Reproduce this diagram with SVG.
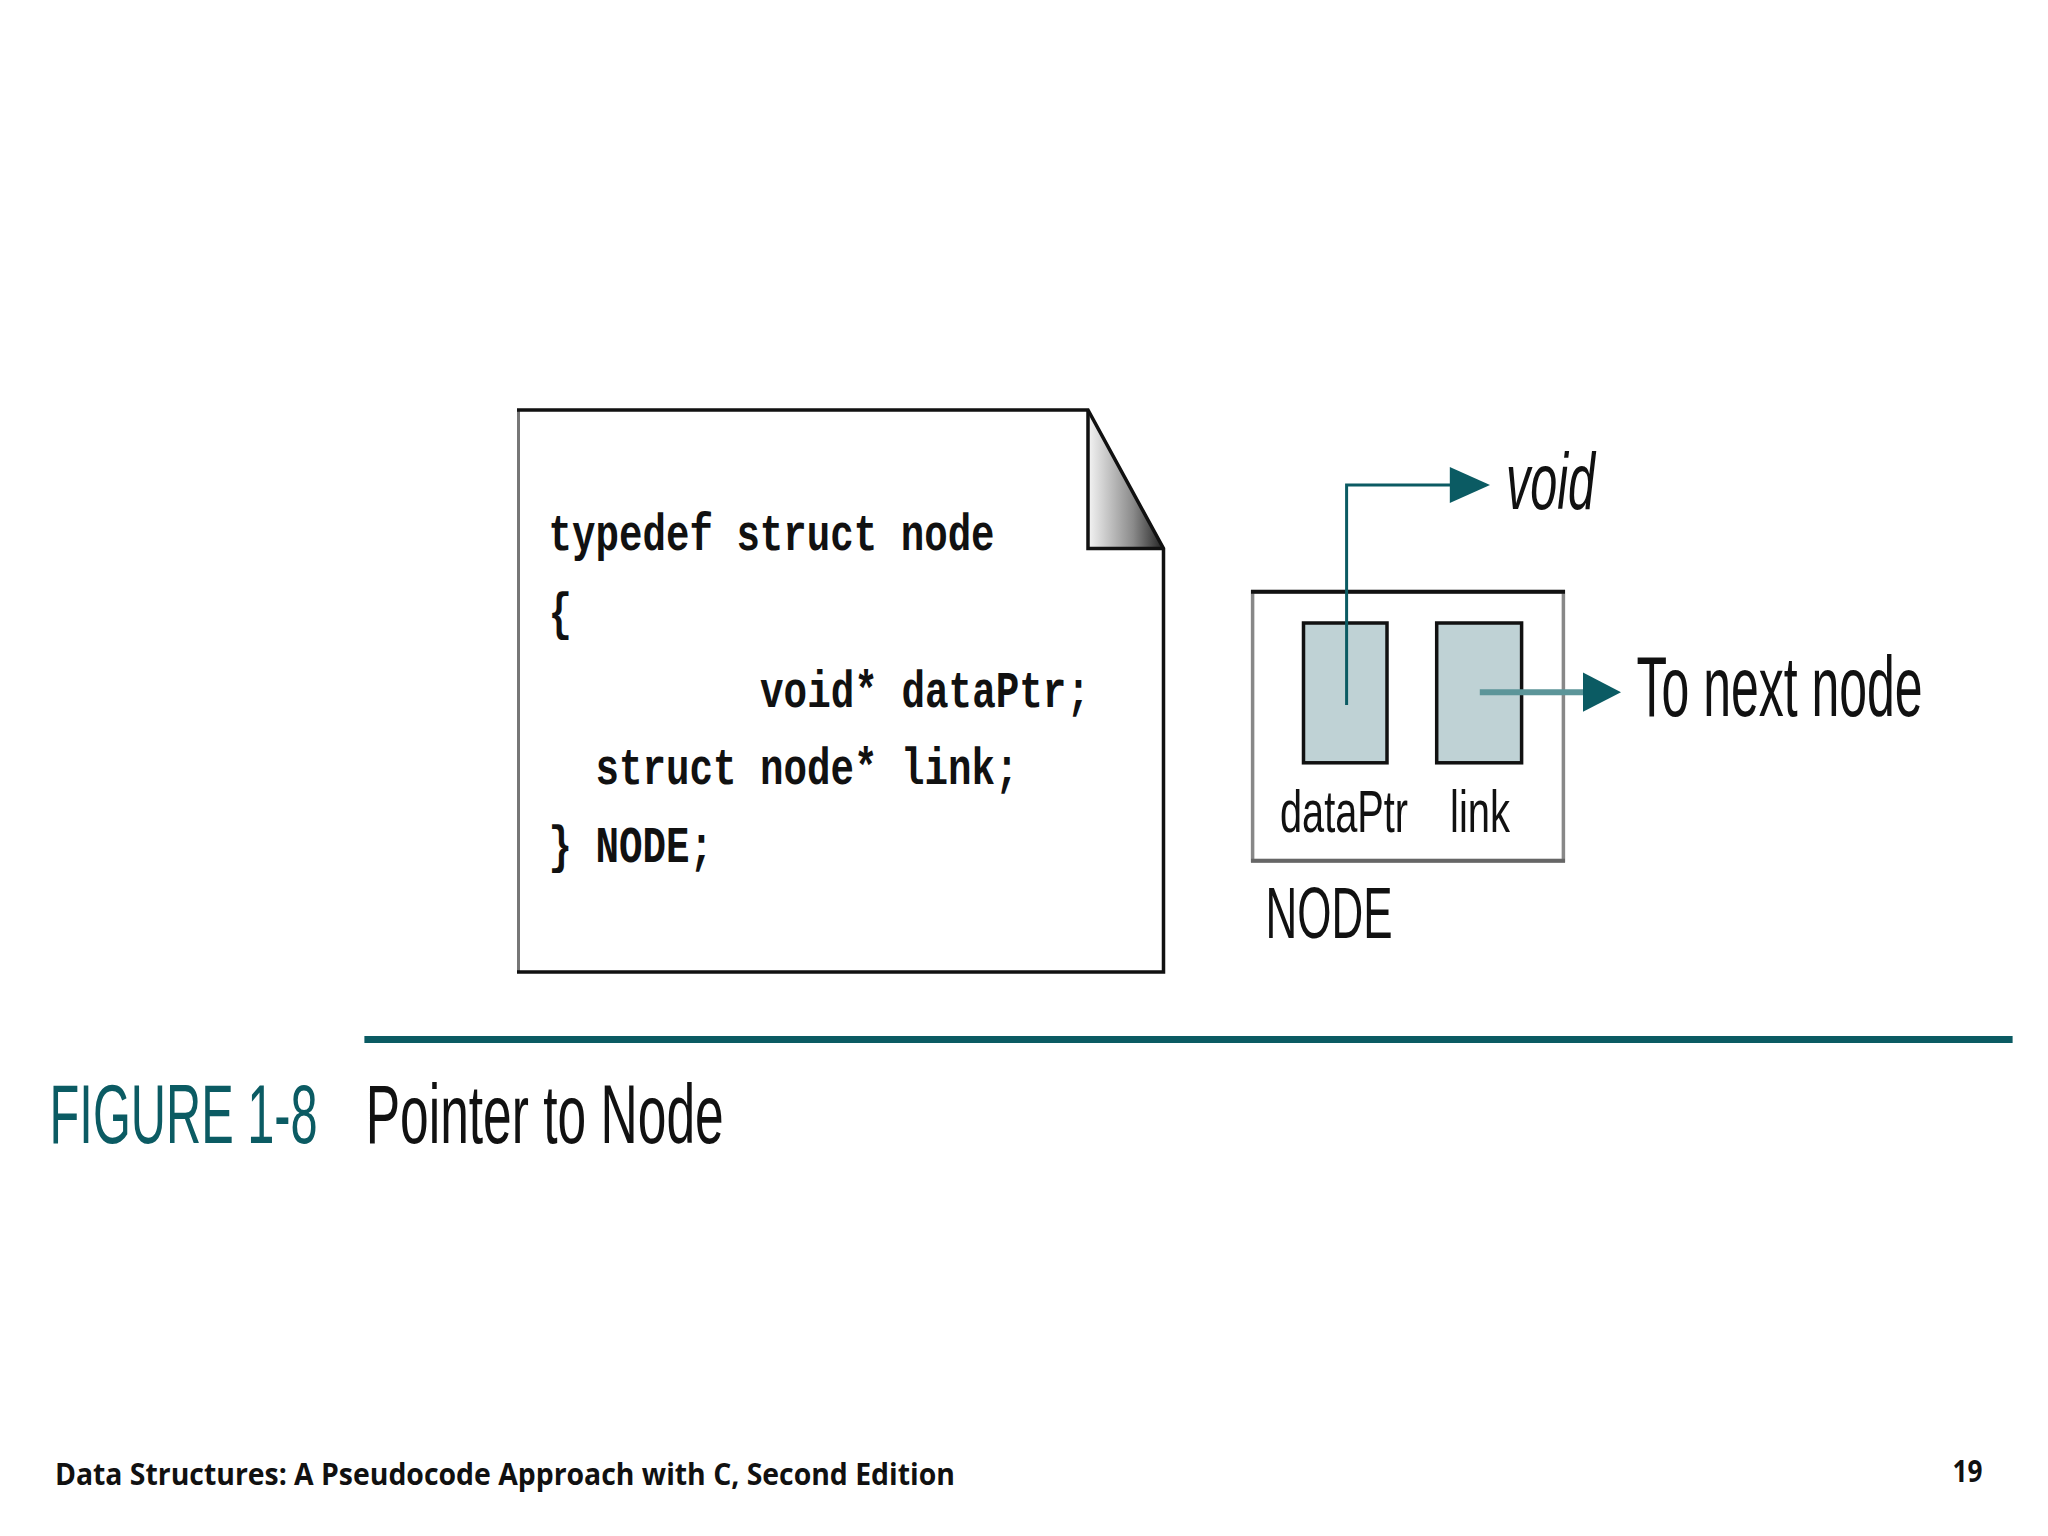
<svg xmlns="http://www.w3.org/2000/svg" width="2048" height="1536" viewBox="0 0 2048 1536">
<style>
.code{font-family:"Liberation Mono","DejaVu Sans Mono",monospace;font-weight:bold;font-size:52px;fill:#111}
.lbl{font-family:"Liberation Sans","DejaVu Sans",sans-serif;fill:#111}
.teal{stroke:#0b5b63;fill:none}
.cell{fill:#bfd2d5;stroke:#111;stroke-width:3.5}
</style>
<defs>
<linearGradient id="fold" x1="0" y1="0" x2="1" y2="0">
<stop offset="0" stop-color="#f4f4f4"/>
<stop offset="0.6" stop-color="#8a8a8a"/>
<stop offset="1" stop-color="#222"/>
</linearGradient>
<marker id="ah" viewBox="0 0 10 10" refX="9" refY="5" markerWidth="10" markerHeight="10" markerUnits="userSpaceOnUse" orient="auto">
<path d="M0,0 L10,5 L0,10 Z" fill="#0b5b63"/>
</marker>
</defs>
<rect width="2048" height="1536" fill="#fff"/>

<g id="code-doc">
<path d="M518.5,410 L1088,410 L1163.5,548.5 L1163.5,972 L518.5,972 Z" fill="#fff"/>
<path d="M1088,410 L1088,548.5 L1163.5,548.5 Z" fill="url(#fold)"/>
<line x1="518.5" y1="410" x2="518.5" y2="972" stroke="#777" stroke-width="3"/>
<path d="M517,410 L1088,410 L1163.5,548.5 L1163.5,972 L517,972" fill="none" stroke="#111" stroke-width="3.5"/>
<path d="M1088,410 L1088,548.5 L1163.5,548.5" fill="none" stroke="#111" stroke-width="3.5"/>
<text class="code" x="548.6" y="550" textLength="446" lengthAdjust="spacingAndGlyphs">typedef struct node</text>
<text class="code" x="548.6" y="629" textLength="23.5" lengthAdjust="spacingAndGlyphs">{</text>
<text class="code" x="760" y="707" textLength="330" lengthAdjust="spacingAndGlyphs">void* dataPtr;</text>
<text class="code" x="595.6" y="784" textLength="423" lengthAdjust="spacingAndGlyphs">struct node* link;</text>
<text class="code" x="548.6" y="862" textLength="164.5" lengthAdjust="spacingAndGlyphs">} NODE;</text>
</g>

<g id="node-struct">
<rect x="1252.6" y="591.7" width="310.8" height="269" fill="#fff" stroke="#888" stroke-width="3.5"/>
<line x1="1251" y1="591.7" x2="1565" y2="591.7" stroke="#111" stroke-width="4"/>
<line x1="1251" y1="860.7" x2="1565" y2="860.7" stroke="#666" stroke-width="4"/>
<rect id="dataPtr-cell" class="cell" x="1303.5" y="623" width="83.5" height="139.8"/>
<rect id="link-cell" class="cell" x="1436.7" y="623" width="84.9" height="139.8"/>
<text class="lbl" x="1280" y="832" font-size="60" textLength="128" lengthAdjust="spacingAndGlyphs">dataPtr</text>
<text class="lbl" x="1450" y="832" font-size="60" textLength="60" lengthAdjust="spacingAndGlyphs">link</text>
<text class="lbl" x="1265.6" y="938" font-size="72" textLength="127" lengthAdjust="spacingAndGlyphs">NODE</text>
</g>

<g id="void-label">
<text class="lbl" x="1506" y="509" font-size="80" font-style="italic" textLength="89" lengthAdjust="spacingAndGlyphs">void</text>
</g>
<g id="next-label">
<text class="lbl" x="1636.6" y="716" font-size="86" textLength="286" lengthAdjust="spacingAndGlyphs">To next node</text>
</g>

<g id="connectors">
<path class="teal" d="M1346.6,705 L1346.6,485 L1452,485" stroke-width="3"/>
<path d="M1449.8,467 L1490,485 L1449.8,503 Z" fill="#0b5b63"/>
<line x1="1479.8" y1="692.2" x2="1585" y2="692.2" stroke="#5c9599" stroke-width="6"/>
<path d="M1583,672.6 L1621,692.2 L1583,711.8 Z" fill="#0b5b63"/>
</g>

<g id="caption">
<rect x="364.4" y="1036" width="1648.2" height="7" fill="#0b5b63"/>
<text x="49.6" y="1143" font-family="Liberation Sans, DejaVu Sans, sans-serif" font-size="84" fill="#0b5b63" textLength="268" lengthAdjust="spacingAndGlyphs">FIGURE 1-8</text>
<text x="365.7" y="1143" font-family="Liberation Sans, DejaVu Sans, sans-serif" font-size="84" fill="#111" textLength="358" lengthAdjust="spacingAndGlyphs">Pointer to Node</text>
</g>

<g id="footer">
<text x="54.9" y="1485" font-family="Open Sans, Noto Sans, sans-serif" font-weight="bold" font-size="30" fill="#111" textLength="900" lengthAdjust="spacingAndGlyphs">Data Structures: A Pseudocode Approach with C, Second Edition</text>
<text x="1952.6" y="1482" font-family="Open Sans, Noto Sans, sans-serif" font-weight="bold" font-size="30" fill="#111" textLength="30" lengthAdjust="spacingAndGlyphs">19</text>
</g>
</svg>
